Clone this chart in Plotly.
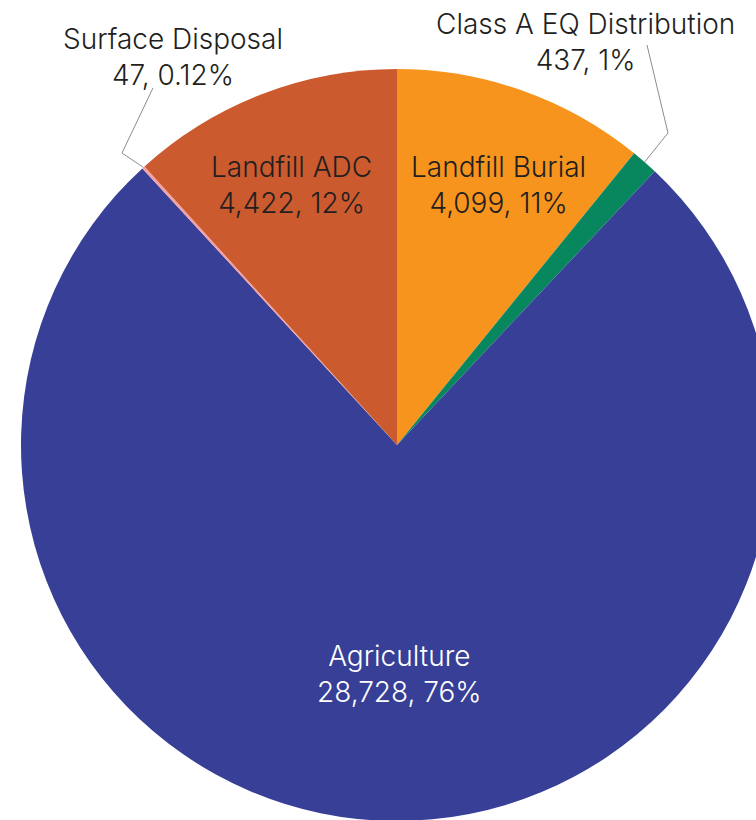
import math
import plotly.graph_objects as go

# ---- data ----
categories = ["Landfill Burial", "Class A EQ Distribution", "Agriculture",
              "Surface Disposal", "Landfill ADC"]
values = [4099, 437, 28728, 47, 4422]
colors = ["#F7941D", "#08875F", "#373F97", "#F4A0A5", "#CB5A2E"]

# ---- layout geometry (pixels) ----
W, H = 780, 830
CX, CY, R = 397, 445, 376


def px(x):
    return x / W


def py(y):
    return 1 - y / H


total = sum(values)


def fmt_pct(v):
    p = v / total * 100
    return f"{p:.2f}%" if p < 1 else f"{round(p):d}%"


def label_text(name, v):
    return f"{name}<br>{v:,}, {fmt_pct(v)}"


fig = go.Figure(go.Pie(
    labels=categories,
    values=values,
    marker=dict(colors=colors, line=dict(width=0)),
    sort=False,
    direction="clockwise",
    rotation=0,
    textinfo="none",
    hoverinfo="label+value+percent",
    showlegend=False,
    domain=dict(x=[px(CX - R), px(CX + R)], y=[py(CY + R), py(CY - R)]),
))

# label positions (pixel centres) and colours
label_pos = {
    "Landfill Burial": (498.5, 185, "#231F20"),
    "Class A EQ Distribution": (585, 41.5, "#231F20"),
    "Agriculture": (400, 674, "#FFFFFF"),
    "Surface Disposal": (172.5, 57, "#231F20"),
    "Landfill ADC": (291.5, 185, "#231F20"),
}

annotations = []
for name, v in zip(categories, values):
    x, y, c = label_pos[name]
    annotations.append(dict(
        x=px(x), y=py(y), xref="paper", yref="paper",
        xanchor="center", yanchor="middle", showarrow=False,
        text=label_text(name, v),
        font=dict(family="Inter, sans-serif", size=28, color=c,
                  weight=300),
    ))


# leader lines start at the slice mid-angle on the rim
def rim_point(name):
    i = categories.index(name)
    before = sum(values[:i])
    ang = (before + values[i] / 2) / total * 2 * math.pi
    return CX + R * math.sin(ang), CY - R * math.cos(ang)


leaders = {
    "Surface Disposal": [(122, 153), (153, 88)],
    "Class A EQ Distribution": [(668, 133), (647, 45)],
}
shapes = []
for name, pts in leaders.items():
    sx, sy = rim_point(name)
    allpts = [(sx, sy)] + pts
    path = "M " + " L ".join(f"{px(a):.5f},{py(b):.5f}" for a, b in allpts)
    shapes.append(dict(type="path", path=path, xref="paper", yref="paper",
                       line=dict(color="#8C8C8C", width=1)))

fig.update_layout(
    width=W, height=H,
    margin=dict(l=0, r=0, t=0, b=0),
    paper_bgcolor="white", plot_bgcolor="white",
    annotations=annotations,
    shapes=shapes,
)

fig.write_html(
    "out.html",
    post_script="document.documentElement.style.overflow='hidden';"
                "document.body.style.overflow='hidden';"
                "document.body.style.margin='0';",
)
